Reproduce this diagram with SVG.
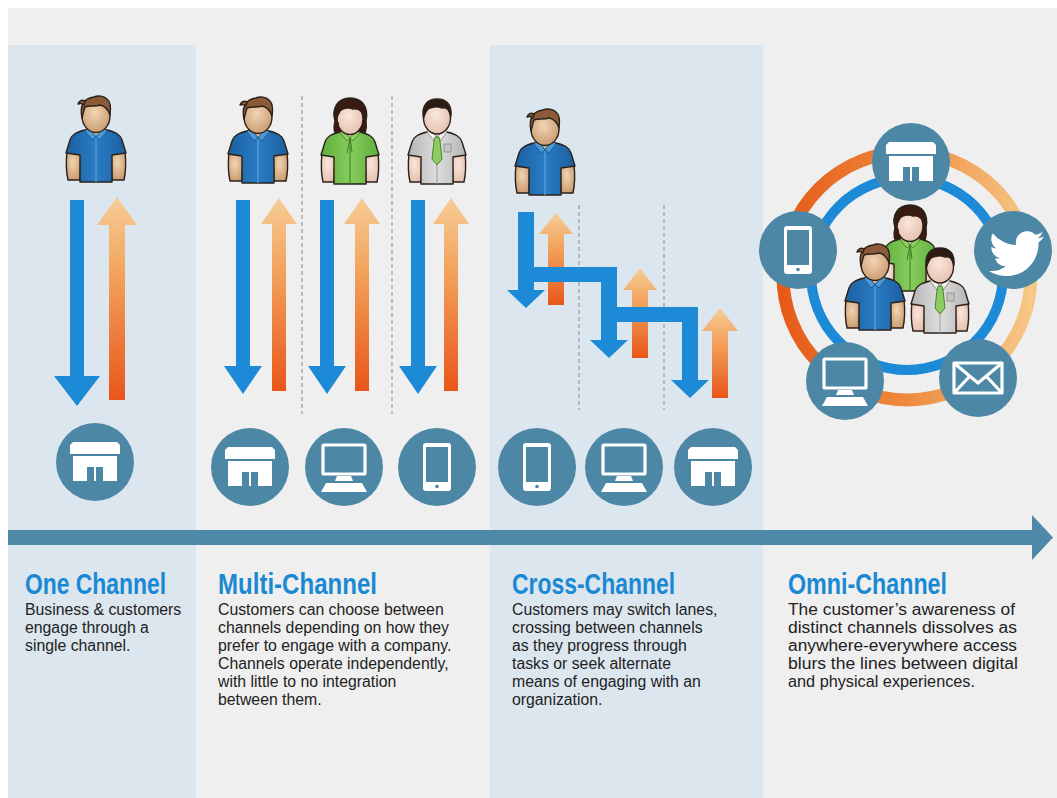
<svg xmlns="http://www.w3.org/2000/svg" xmlns:xlink="http://www.w3.org/1999/xlink" width="1057" height="798" viewBox="0 0 1057 798">
  <style>
    .ol { stroke: #2b2118; stroke-width: 1.4; stroke-linejoin: round; }
    .ic { fill: #4d87a6; }
    .wh { fill: #ffffff; }
    .whs { fill: none; stroke: #ffffff; stroke-width: 3.2; stroke-linejoin: round; }
    .dash { stroke: #9a9a9a; stroke-width: 1.2; stroke-dasharray: 4 3; fill: none; }
    .head { font-family: "Liberation Sans", Arial, sans-serif; font-weight: bold; font-size: 29px; fill: #1a89d3; }
    .body { font-family: "Liberation Sans", Arial, sans-serif; font-size: 15.8px; fill: #222222; }
    .blue-arrow { fill: #1c8ad6; }
    .orange-arrow { fill: url(#orangeGrad); }
  </style>
  <defs>
    <linearGradient id="orangeGrad" x1="0" y1="0" x2="0" y2="1">
      <stop offset="0" stop-color="#f7cd96"/>
      <stop offset="0.4" stop-color="#f2a059"/>
      <stop offset="1" stop-color="#e8561a"/>
    </linearGradient>
    <linearGradient id="ringGrad" x1="0" y1="0" x2="1" y2="0">
      <stop offset="0" stop-color="#e65a18"/>
      <stop offset="0.5" stop-color="#ee8a3e"/>
      <stop offset="1" stop-color="#f6c887"/>
    </linearGradient>
    <radialGradient id="skinTan" cx="0.45" cy="0.4" r="0.65">
      <stop offset="0" stop-color="#f1d5b4"/>
      <stop offset="1" stop-color="#c9996d"/>
    </radialGradient>
    <radialGradient id="skinPale" cx="0.45" cy="0.4" r="0.65">
      <stop offset="0" stop-color="#fae6dc"/>
      <stop offset="1" stop-color="#e3bfae"/>
    </radialGradient>
    <linearGradient id="shirtBlue" x1="0" y1="0" x2="1" y2="0">
      <stop offset="0" stop-color="#1b5f9f"/>
      <stop offset="0.5" stop-color="#2a7cc4"/>
      <stop offset="1" stop-color="#1b5f9f"/>
    </linearGradient>
    <linearGradient id="shirtGreen" x1="0" y1="0" x2="1" y2="0">
      <stop offset="0" stop-color="#5fae3c"/>
      <stop offset="0.5" stop-color="#86cc5c"/>
      <stop offset="1" stop-color="#5fae3c"/>
    </linearGradient>
    <linearGradient id="shirtGray" x1="0" y1="0" x2="1" y2="0">
      <stop offset="0" stop-color="#b4b4b4"/>
      <stop offset="0.5" stop-color="#dedede"/>
      <stop offset="1" stop-color="#b4b4b4"/>
    </linearGradient>

    <!-- man in blue shirt, 62 x 88 -->
    <g id="man-blue">
      <path class="ol" d="M2,56 C1,66 1,76 3,85 L15,85 L16,57 Z" fill="url(#skinTan)"/>
      <path class="ol" d="M60,56 C61,66 61,76 59,85 L47,85 L46,57 Z" fill="url(#skinTan)"/>
      <path class="ol" d="M1,58 L5,45 C7,39 12,37 20,35 L26,33 L36,33 L42,35 C50,37 55,39 57,45 L61,58 L47,60 L47,87 L15,87 L15,60 Z" fill="url(#shirtBlue)"/>
      <path d="M25,27 V35 L31,41 L37,35 V27 Z" fill="#dcbc98"/>
      <path d="M24,32 L31,42 L27,45 L20,36 Z" fill="#4a98d6" stroke="#1b4f80" stroke-width="0.8"/>
      <path d="M38,32 L31,42 L35,45 L42,36 Z" fill="#4a98d6" stroke="#1b4f80" stroke-width="0.8"/>
      <line x1="31" y1="43" x2="31" y2="87" stroke="#4c9ad8" stroke-width="1.5"/>
      <ellipse class="ol" cx="31" cy="21" rx="14" ry="16.5" fill="url(#skinTan)"/>
      <path class="ol" d="M17,23 C14,10 20,3 29,2 C33,0 39,1 42,4 C46,7 46,13 45,20 C43,14 40,11 35,10 C30,12 24,10 20,12 C19,15 18,19 17,23 Z" fill="#8b5a38"/>
      <path d="M20,6 C17,4 14,6 13,9 C16,8 18,9 19,10 Z" fill="#8b5a38" class="ol"/>
    </g>

    <!-- woman in green shirt, 62 x 88 -->
    <g id="woman-green">
      <path class="ol" d="M16,24 C12,10 20,1 31,1 C43,1 50,10 47,24 C48,32 46,38 42,40 L20,40 C15,37 14,31 16,24 Z" fill="#3b1a10"/>
      <path class="ol" d="M3,56 C2,66 2,76 4,85 L15,85 L16,57 Z" fill="url(#skinPale)"/>
      <path class="ol" d="M59,56 C60,66 60,76 58,85 L47,85 L46,57 Z" fill="url(#skinPale)"/>
      <path class="ol" d="M2,58 L6,45 C8,39 13,37 21,35 L26,33 L36,33 L41,35 C49,37 54,39 56,45 L60,58 L47,60 L47,87 L15,87 L15,60 Z" fill="url(#shirtGreen)"/>
      <path d="M26,28 V35 L31,40 L36,35 V28 Z" fill="#f0d4c6"/>
      <path d="M24,32 L31,41 L28,44 L21,36 Z" fill="#8fd063" stroke="#3d7a22" stroke-width="0.8"/>
      <path d="M38,32 L31,41 L34,44 L41,36 Z" fill="#8fd063" stroke="#3d7a22" stroke-width="0.8"/>
      <path d="M31,41 L28,56 M31,41 L33,55" stroke="#3d7a22" stroke-width="1" fill="none"/>
      <line x1="31" y1="44" x2="31" y2="87" stroke="#3d7a22" stroke-width="1"/>
      <ellipse class="ol" cx="31" cy="22" rx="13" ry="15.5" fill="url(#skinPale)"/>
      <path class="ol" d="M17,24 C14,9 22,2 31,2 C41,2 48,9 46,22 C44,15 40,11 34,12 C30,10 24,11 21,14 C19,17 18,20 17,24 Z" fill="#3b1a10"/>
      <path d="M17,22 C15,28 16,33 19,36 L20,26 Z M46,20 C48,27 47,32 44,35 L43,25 Z" fill="#3b1a10"/>
    </g>

    <!-- man in gray shirt with tie, 62 x 88 -->
    <g id="man-gray">
      <path class="ol" d="M3,56 C2,66 2,76 4,85 L15,85 L16,57 Z" fill="url(#skinPale)"/>
      <path class="ol" d="M59,56 C60,66 60,76 58,85 L47,85 L46,57 Z" fill="url(#skinPale)"/>
      <path class="ol" d="M2,58 L6,45 C8,39 13,37 21,35 L26,33 L36,33 L41,35 C49,37 54,39 56,45 L60,58 L47,60 L47,87 L15,87 L15,60 Z" fill="url(#shirtGray)"/>
      <path d="M26,27 V35 L31,40 L36,35 V27 Z" fill="#f0d4c6"/>
      <path d="M24,32 L31,40 L28,44 L21,35 Z" fill="#f2f2f2" stroke="#777" stroke-width="0.8"/>
      <path d="M38,32 L31,40 L34,44 L41,35 Z" fill="#f2f2f2" stroke="#777" stroke-width="0.8"/>
      <path d="M29,40 L33,40 L34,44 L36,62 L31,68 L26,62 L28,44 Z" fill="#8fcb63" stroke="#3d7a22" stroke-width="0.9"/>
      <rect x="38" y="47" width="7" height="8" fill="#c4c4c4" stroke="#8a8a8a" stroke-width="0.8"/>
      <line x1="31" y1="68" x2="31" y2="87" stroke="#9a9a9a" stroke-width="1"/>
      <ellipse class="ol" cx="31" cy="21" rx="13.5" ry="16" fill="url(#skinPale)"/>
      <path class="ol" d="M17.5,21 C15,8 22,2 31,2 C40,2 46,7 45,19 C43,13 41,10 36,11 C31,9 25,10 22,12 C20,14 19,17 17.5,21 Z" fill="#2b1b13"/>
    </g>

    <!-- channel icons, centered on 0,0 -->
    <g id="ic-store">
      <circle class="ic" r="39"/>
      <path class="wh" d="M-25,-8 V-17 L-22,-20 H22 L25,-17 V-8 Z"/>
      <rect class="wh" x="-22" y="-6" width="44" height="25"/>
      <rect class="ic" x="-8" y="5" width="16" height="14"/>
      <rect class="wh" x="-1" y="5" width="2" height="14"/>
    </g>
    <g id="ic-computer">
      <circle class="ic" r="39"/>
      <rect class="whs" x="-21" y="-22" width="42" height="29" rx="1"/>
      <path class="wh" d="M-7,9 H7 L9,14 H-9 Z"/>
      <path class="wh" d="M-18,16 H18 L23,25 H-23 Z"/>
    </g>
    <g id="ic-phone">
      <circle class="ic" r="39"/>
      <rect class="wh" x="-14" y="-24" width="28" height="48" rx="3"/>
      <rect class="ic" x="-11" y="-20" width="22" height="35"/>
      <circle class="ic" cx="0" cy="19.5" r="1.8"/>
    </g>
    <g id="ic-twitter">
      <circle class="ic" r="39"/>
      <path class="wh" transform="translate(-24,-24) scale(2.3)" d="M23.953 4.57a10 10 0 01-2.825.775 4.958 4.958 0 002.163-2.723c-.951.555-2.005.959-3.127 1.184a4.92 4.92 0 00-8.384 4.482C7.69 8.095 4.067 6.13 1.64 3.162a4.822 4.822 0 00-.666 2.475c0 1.710.87 3.213 2.188 4.096a4.904 4.904 0 01-2.228-.616v.06a4.923 4.923 0 003.946 4.827 4.996 4.996 0 01-2.212.085 4.936 4.936 0 004.604 3.417 9.867 9.867 0 01-6.102 2.105c-.39 0-.779-.023-1.17-.067a13.995 13.995 0 007.557 2.209c9.053 0 13.998-7.496 13.998-13.985 0-.21 0-.42-.015-.63A9.935 9.935 0 0024 4.59z"/>
    </g>
    <g id="ic-mail">
      <circle class="ic" r="39"/>
      <rect class="whs" x="-24" y="-15" width="48" height="30"/>
      <path class="whs" d="M-24,-15 L0,5 L24,-15 M-24,15 L-8,-2 M24,15 L8,-2"/>
    </g>
  </defs>

  <!-- page -->
  <rect x="0" y="0" width="1057" height="798" fill="#ffffff"/>
  <rect x="8" y="8" width="1049" height="790" fill="#efefef"/>
  <rect x="8" y="45" width="188" height="753" fill="#dce6ef"/>
  <rect x="490" y="45" width="273" height="753" fill="#dce6ef"/>

  <!-- lane separators -->
  <g id="separators">
    <line class="dash" x1="302" y1="96" x2="302" y2="414"/>
    <line class="dash" x1="392" y1="96" x2="392" y2="414"/>
    <line class="dash" x1="579" y1="205" x2="579" y2="410"/>
    <line class="dash" x1="664" y1="205" x2="664" y2="410"/>
  </g>

  <!-- connectors: engagement arrows, omni rings, timeline -->
  <g id="connectors">
    <!-- one channel -->
    <path class="blue-arrow" d="M70,200 H84 V376 H100 L77,406 L54,376 H70 Z"/>
    <path class="orange-arrow" d="M117,197 L137,225 H125 V400 H109 V225 H97 Z"/>
    <!-- multi-channel -->
    <path class="blue-arrow" d="M236,200 H250 V366 H262 L243,394 L224,366 H236 Z"/>
    <path class="orange-arrow" d="M279,198 L297,224 H286 V391 H272 V224 H261 Z"/>
    <path class="blue-arrow" d="M320,200 H334 V366 H346 L327,394 L308,366 H320 Z"/>
    <path class="orange-arrow" d="M362,198 L380,224 H369 V391 H355 V224 H344 Z"/>
    <path class="blue-arrow" d="M411,200 H425 V366 H437 L418,394 L399,366 H411 Z"/>
    <path class="orange-arrow" d="M451,198 L469,224 H458 V391 H444 V224 H433 Z"/>
    <!-- cross-channel -->
    <path class="orange-arrow" d="M556,213 L573,234 H564 V305 H548 V234 H539 Z"/>
    <path class="orange-arrow" d="M640,268 L657,290 H648 V358 H632 V290 H623 Z"/>
    <path class="orange-arrow" d="M720,308 L738,331 H728 V398 H712 V331 H702 Z"/>
    <path class="blue-arrow" d="M518,212 H534 V267 H617 V307 H698 V380 H709 L690,398 L671,380 H682 V322 H617 V340 H628 L609,358 L590,340 H601 V282 H534 V290 H545 L526,308 L507,290 H518 Z"/>
    <!-- omni-channel rings -->
    <circle cx="907" cy="276" r="124" fill="none" stroke="url(#ringGrad)" stroke-width="13"/>
    <circle cx="907" cy="274" r="96" fill="none" stroke="#1c8ad6" stroke-width="10"/>
    <!-- timeline -->
    <path fill="#4f89a8" d="M8,530 H1032 V515 L1053,537.5 L1032,560 V545 H8 Z"/>
  </g>

  <!-- people -->
  <g id="person-one"><use xlink:href="#man-blue" x="65" y="95"/></g>
  <g id="person-multi-1"><use xlink:href="#man-blue" x="227" y="96"/></g>
  <g id="person-multi-2"><use xlink:href="#woman-green" x="319" y="97"/></g>
  <g id="person-multi-3"><use xlink:href="#man-gray" x="406" y="97"/></g>
  <g id="person-cross"><use xlink:href="#man-blue" x="514" y="108"/></g>
  <g id="people-omni">
    <use xlink:href="#woman-green" x="879" y="204"/>
    <use xlink:href="#man-blue" x="844" y="243"/>
    <use xlink:href="#man-gray" x="909" y="246"/>
  </g>

  <!-- channel icons -->
  <g id="icon-one-store"><use xlink:href="#ic-store" x="95" y="462"/></g>
  <g id="icon-multi-store"><use xlink:href="#ic-store" x="250" y="467"/></g>
  <g id="icon-multi-computer"><use xlink:href="#ic-computer" x="344" y="467"/></g>
  <g id="icon-multi-phone"><use xlink:href="#ic-phone" x="437" y="467"/></g>
  <g id="icon-cross-phone"><use xlink:href="#ic-phone" x="537" y="467"/></g>
  <g id="icon-cross-computer"><use xlink:href="#ic-computer" x="624" y="467"/></g>
  <g id="icon-cross-store"><use xlink:href="#ic-store" x="713" y="467"/></g>
  <g id="icon-omni-store"><use xlink:href="#ic-store" x="911" y="162"/></g>
  <g id="icon-omni-twitter"><use xlink:href="#ic-twitter" x="1013" y="250"/></g>
  <g id="icon-omni-mail"><use xlink:href="#ic-mail" x="978" y="378"/></g>
  <g id="icon-omni-computer"><use xlink:href="#ic-computer" x="845" y="381"/></g>
  <g id="icon-omni-phone"><use xlink:href="#ic-phone" x="798" y="250"/></g>

  <!-- captions -->
  <g id="caption-one">
    <text class="head" x="25" y="594" textLength="141" lengthAdjust="spacingAndGlyphs">One Channel</text>
    <text class="body" x="25" y="615">Business &amp; customers</text>
    <text class="body" x="25" y="633">engage through a</text>
    <text class="body" x="25" y="651">single channel.</text>
  </g>
  <g id="caption-multi">
    <text class="head" x="218" y="594" textLength="159" lengthAdjust="spacingAndGlyphs">Multi-Channel</text>
    <text class="body" x="218" y="615">Customers can choose between</text>
    <text class="body" x="218" y="633">channels depending on how they</text>
    <text class="body" x="218" y="651">prefer to engage with a company.</text>
    <text class="body" x="218" y="669">Channels operate independently,</text>
    <text class="body" x="218" y="687">with little to no integration</text>
    <text class="body" x="218" y="705">between them.</text>
  </g>
  <g id="caption-cross">
    <text class="head" x="512" y="594" textLength="163" lengthAdjust="spacingAndGlyphs">Cross-Channel</text>
    <text class="body" x="512" y="615">Customers may switch lanes,</text>
    <text class="body" x="512" y="633">crossing between channels</text>
    <text class="body" x="512" y="651">as they progress through</text>
    <text class="body" x="512" y="669">tasks or seek alternate</text>
    <text class="body" x="512" y="687">means of engaging with an</text>
    <text class="body" x="512" y="705">organization.</text>
  </g>
  <g id="caption-omni">
    <text class="head" x="788" y="594" textLength="159" lengthAdjust="spacingAndGlyphs">Omni-Channel</text>
    <text class="body" x="788" y="615" textLength="227" lengthAdjust="spacingAndGlyphs">The customer’s awareness of</text>
    <text class="body" x="788" y="633" textLength="229" lengthAdjust="spacingAndGlyphs">distinct channels dissolves as</text>
    <text class="body" x="788" y="651" textLength="229" lengthAdjust="spacingAndGlyphs">anywhere-everywhere access</text>
    <text class="body" x="788" y="669" textLength="230" lengthAdjust="spacingAndGlyphs">blurs the lines between digital</text>
    <text class="body" x="788" y="687" textLength="187" lengthAdjust="spacingAndGlyphs">and physical experiences.</text>
  </g>
</svg>
